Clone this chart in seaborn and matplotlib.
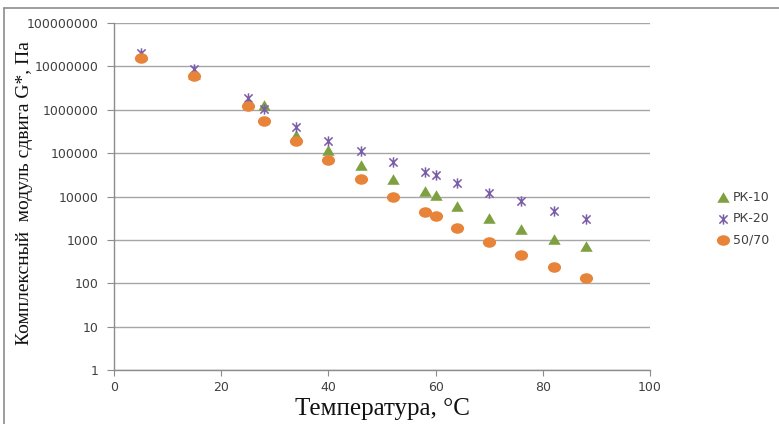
import matplotlib
matplotlib.use("Agg")
import matplotlib.pyplot as plt
from matplotlib.path import Path
from matplotlib.lines import Line2D
from matplotlib.ticker import FixedLocator, FixedFormatter, NullLocator
import seaborn as sns
import numpy as np

# ---------------- data ----------------
temperature = [5, 15, 25, 28, 34, 40, 46, 52, 58, 60, 64, 70, 76, 82, 88]
g_pk10 = [1.8e7, 6.5e6, 1.5e6, 1.3e6, 2.6e5, 1.15e5, 5.4e4, 2.5e4, 1.35e4, 1.1e4,
          5.9e3, 3.15e3, 1.8e3, 1.03e3, 7.1e2]
g_pk20 = [2.0e7, 8.8e6, 1.9e6, 1.04e6, 3.9e5, 1.95e5, 1.1e5, 6.1e4, 3.6e4, 3.2e4,
          2.0e4, 1.2e4, 7.7e3, 4.6e3, 3.1e3]
g_5070 = [1.6e7, 5.9e6, 1.2e6, 5.6e5, 1.95e5, 6.9e4, 2.6e4, 1.0e4, 4.35e3, 3.5e3,
          1.9e3, 8.85e2, 4.5e2, 2.35e2, 1.35e2]
series_names = ["РК-10", "РК-20", "50/70"]
y_ticks = [1, 10, 100, 1000, 10000, 100000, 1000000, 10000000, 100000000]
y_tick_labels = ["1", "10", "100", "1000", "10000", "100000", "1000000",
                 "10000000", "100000000"]
x_ticks = [0, 20, 40, 60, 80, 100]
x_tick_labels = ["0", "20", "40", "60", "80", "100"]
x_label = "Температура, °C"
y_label = "Комплексный  модуль сдвига G*, Па"

# ---------------- style ----------------
sns.set_theme(style="white")
plt.rcParams["font.family"] = ["DejaVu Sans"]

green = "#7FA040"
purple = "#7A5CA8"
orange = "#E8843A"
grid_gray = "#A6A6A6"
axis_gray = "#8C8C8C"
text_gray = "#404040"

# custom markers
tri = Path([(0, 0.85), (-1, -0.85), (1, -0.85), (0, 0.85)],
           [Path.MOVETO, Path.LINETO, Path.LINETO, Path.CLOSEPOLY])
d = 0.8
star = Path([(0, -1), (0, 1), (-d, -d), (d, d), (-d, d), (d, -d)],
            [Path.MOVETO, Path.LINETO, Path.MOVETO, Path.LINETO, Path.MOVETO, Path.LINETO])
circ = Path.unit_circle()
ellipse = Path(circ.vertices * np.array([1.0, 0.8]), circ.codes)

fig = plt.figure(figsize=(7.79, 4.24), dpi=100)
ax = fig.add_axes([114 / 779, 1 - 370 / 424, 536 / 779, 347 / 424])

sns.scatterplot(x=temperature, y=g_pk10, marker=tri, s=80, color=green,
                edgecolor=green, linewidth=0, ax=ax, label=series_names[0], zorder=3)
sns.scatterplot(x=temperature, y=g_pk20, marker=star, s=55, color=purple,
                edgecolor=purple, linewidth=1.1, ax=ax, label=series_names[1], zorder=4)
sns.scatterplot(x=temperature, y=g_5070, marker=ellipse, s=90, color=orange,
                edgecolor=orange, linewidth=0, ax=ax, label=series_names[2], zorder=5)

ax.set_yscale("log")
ax.set_ylim(1, 1e8)
ax.set_xlim(0, 100)
ax.yaxis.set_major_locator(FixedLocator(y_ticks))
ax.yaxis.set_major_formatter(FixedFormatter(y_tick_labels))
ax.yaxis.set_minor_locator(NullLocator())
ax.set_xticks(x_ticks)
ax.set_xticklabels(x_tick_labels)

ax.grid(axis="y", color=grid_gray, linewidth=1.0)
ax.grid(axis="x", visible=False)
ax.set_axisbelow(True)
for side in ["top", "right"]:
    ax.spines[side].set_visible(False)
for side in ["left", "bottom"]:
    ax.spines[side].set_color(axis_gray)
    ax.spines[side].set_linewidth(1.0)

ax.tick_params(axis="y", which="major", direction="out", length=5, width=0.8,
               color=axis_gray, pad=6, labelsize=9, labelcolor=text_gray, left=True)
ax.tick_params(axis="x", which="major", direction="out", length=4, width=0.8,
               color=axis_gray, pad=4, labelsize=9, labelcolor=text_gray, bottom=True)

ax.set_xlabel(x_label, family=["Liberation Serif", "DejaVu Serif"], fontsize=18,
              color="#111111")
ax.xaxis.set_label_coords(0.5, -0.08)
ax.set_ylabel(y_label, family=["Liberation Serif", "DejaVu Serif"], fontsize=14,
              color="#111111")
ax.yaxis.set_label_coords(-0.152, 0.51)

leg = ax.legend(loc="upper left", bbox_to_anchor=(708 / 779, 1 - 182 / 424),
                bbox_transform=fig.transFigure, frameon=False, fontsize=9,
                handlelength=1.0, handletextpad=0.3, labelspacing=0.65,
                borderpad=0.2)
for t in leg.get_texts():
    t.set_color(text_gray)

# outer chart border (top & left)
fig.add_artist(Line2D([4 / 779, 1.0], [1 - 8 / 424, 1 - 8 / 424],
                      transform=fig.transFigure, color=axis_gray, linewidth=1.2))
fig.add_artist(Line2D([4 / 779, 4 / 779], [0, 1 - 8 / 424],
                      transform=fig.transFigure, color=axis_gray, linewidth=1.2))

fig.savefig("out.png", dpi=100)
